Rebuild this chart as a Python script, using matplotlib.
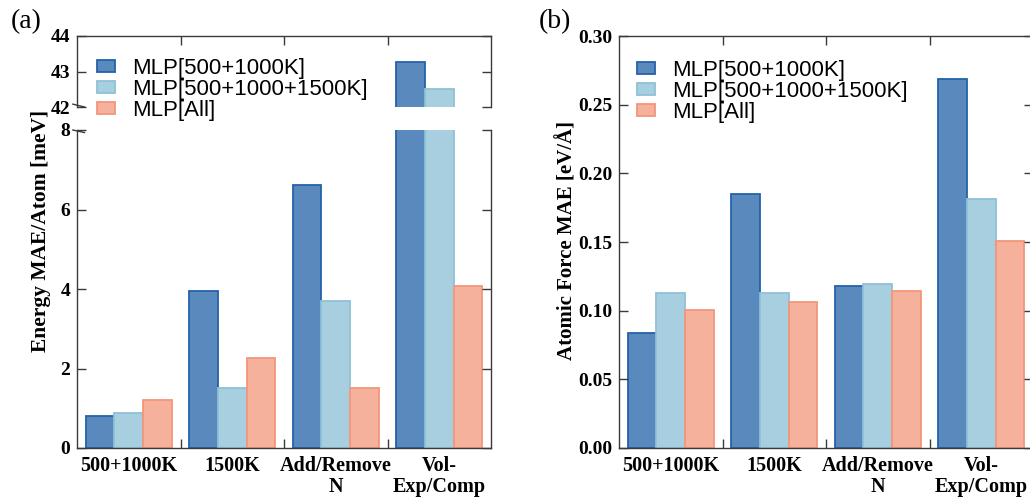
import matplotlib
matplotlib.use("Agg")
import matplotlib.pyplot as plt
import numpy as np
from matplotlib.patches import Patch

categories = ["500+1000K", "1500K", "Add/Remove\nN", "Vol-\nExp/Comp"]
series_names = ["MLP[500+1000K]", "MLP[500+1000+1500K]", "MLP[All]"]
energy_500_1000 = [0.81, 3.95, 6.62, 43.28]
energy_500_1000_1500 = [0.87, 1.50, 3.70, 42.51]
energy_all = [1.22, 2.27, 1.52, 4.08]
force_500_1000 = [0.0835, 0.1853, 0.1181, 0.269]
force_500_1000_1500 = [0.113, 0.1126, 0.1194, 0.181]
force_all = [0.1004, 0.1065, 0.1145, 0.1507]

fills = ["#5a8abd", "#a7cfe0", "#f5b19c"]
edges = ["#2462a8", "#8ec1d8", "#f2967a"]

W, H = 1030, 500
fig = plt.figure(figsize=(W / 100, H / 100), dpi=100)

serif = "Liberation Serif"
sans = "Liberation Sans"
spine_c = "#3a3a3a"

def px(l, t, r, b):
    return [l / W, 1 - b / H, (r - l) / W, (b - t) / H]

ax_top = fig.add_axes(px(77, 36, 491, 107))
ax_bot = fig.add_axes(px(77, 130, 491, 448))
ax_b = fig.add_axes(px(619, 36, 1033, 448))

x = np.arange(len(categories))
bw = 0.277
offsets = [-bw, 0, bw]

def draw_bars(ax, data):
    for i, d in enumerate(data):
        ax.bar(x + offsets[i], d, width=bw, color=fills[i], edgecolor=edges[i],
               linewidth=1.3, label=series_names[i])

energy = [energy_500_1000, energy_500_1000_1500, energy_all]
force = [force_500_1000, force_500_1000_1500, force_all]
draw_bars(ax_top, energy)
draw_bars(ax_bot, energy)
draw_bars(ax_b, force)

def style(ax, top_spine=True, bottom_spine=True, xlabels=True, top_ticks=True, bottom_ticks=True):
    ax.set_xlim(-0.5, 3.5)
    for s in ax.spines.values():
        s.set_color(spine_c)
        s.set_linewidth(1.0)
    ax.spines["top"].set_visible(top_spine)
    ax.spines["bottom"].set_visible(bottom_spine)
    ax.set_xticks(x)
    ax.set_xticks([0.5, 1.5, 2.5], minor=True)
    ax.tick_params(axis="x", which="major", length=0, pad=6)
    ax.tick_params(axis="x", which="minor", direction="in", length=6.5, width=1.0,
                   color=spine_c, top=top_ticks, bottom=bottom_ticks)
    if xlabels:
        ax.set_xticklabels(categories, fontfamily=serif, fontweight="bold", fontsize=14.5,
                           linespacing=1.05)
    else:
        ax.set_xticklabels([])
    ax.tick_params(axis="y", which="major", direction="in", length=6.5, width=1.0,
                   color=spine_c, left=True, right=True, pad=5)
    for lab in ax.get_yticklabels():
        lab.set_fontfamily(serif)
        lab.set_fontweight("bold")
        lab.set_fontsize(14)

ax_top.set_ylim(42, 44)
ax_top.set_yticks([42, 43, 44])
style(ax_top, top_spine=True, bottom_spine=False, xlabels=False, top_ticks=True, bottom_ticks=False)

ax_bot.set_ylim(0, 8)
ax_bot.set_yticks([0, 2, 4, 6, 8])
style(ax_bot, top_spine=False, bottom_spine=True, xlabels=True, top_ticks=False, bottom_ticks=True)

ax_b.set_ylim(0, 0.30)
ax_b.set_yticks([0.00, 0.05, 0.10, 0.15, 0.20, 0.25, 0.30])
ax_b.set_yticklabels(["%.2f" % v for v in ax_b.get_yticks()])
style(ax_b)

# break marks on the left spine
ax_top.plot([-0.010, 0.018], [0.04, 0.0], transform=ax_top.transAxes, color=spine_c, lw=1.0, clip_on=False)
ax_bot.plot([-0.010, 0.018], [1.0, 0.992], transform=ax_bot.transAxes, color=spine_c, lw=1.0, clip_on=False)

# labels
fig.text(41 / W, 1 - 231 / H, "Energy MAE/Atom [meV]", rotation=90, ha="center", va="center",
         fontfamily=serif, fontweight="bold", fontsize=15.5)
fig.text(567 / W, 1 - 240 / H, "Atomic Force MAE [eV/Å]", rotation=90, ha="center", va="center",
         fontfamily=serif, fontweight="bold", fontsize=15)
fig.text(26 / W, 1 - 22 / H, "(a)", ha="center", va="center", fontfamily=serif, fontsize=20)
fig.text(555 / W, 1 - 22 / H, "(b)", ha="center", va="center", fontfamily=serif, fontsize=20)

handles = [Patch(facecolor=fills[i], edgecolor=edges[i], linewidth=1.3) for i in range(3)]
leg_kw = dict(frameon=False, loc="upper left", borderpad=0, borderaxespad=0,
              handlelength=0.8, handleheight=0.5, handletextpad=0.8, labelspacing=0.0,
              prop={"family": sans, "size": 16})
fig.legend(handles, series_names, bbox_to_anchor=(97 / W, 1 - 58 / H), **leg_kw)
fig.legend(handles, series_names, bbox_to_anchor=(637 / W, 1 - 60 / H), **leg_kw)

fig.savefig("out.png", dpi=100)
